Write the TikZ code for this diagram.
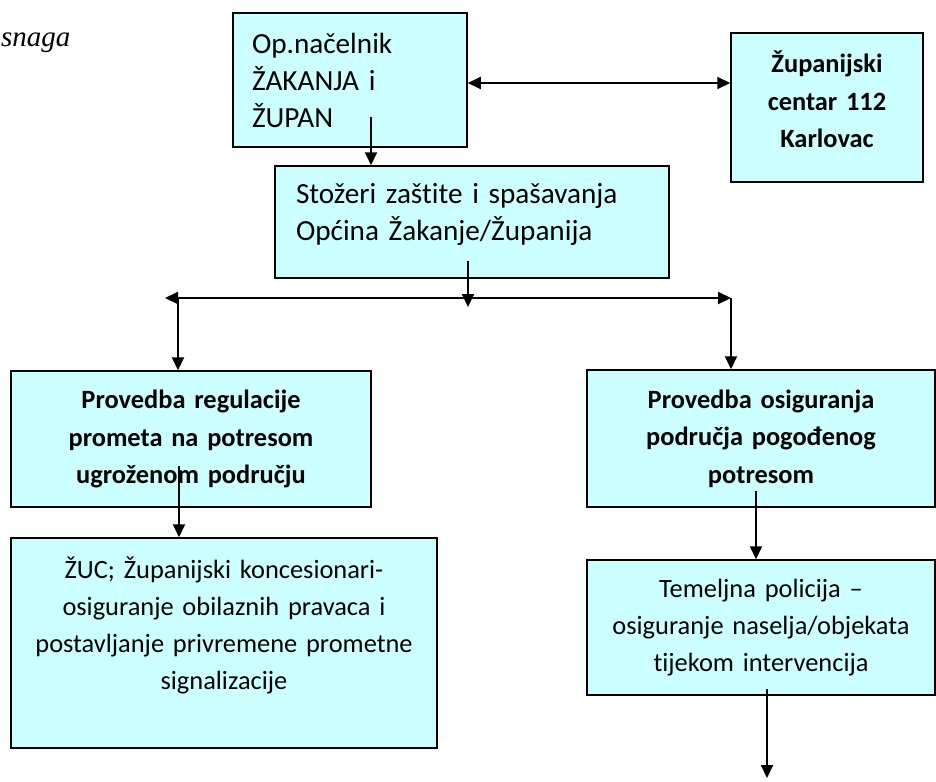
\documentclass[tikz,border=0pt]{standalone}
\usepackage{fontspec}
\setmainfont{Carlito}[Ligatures=NoCommon]
\newfontfamily\timesfont{Liberation Serif}
\usetikzlibrary{arrows.meta,positioning}
\definecolor{boxcyan}{RGB}{204,255,255}
\begin{document}
\begin{tikzpicture}[x=1pt,y=-1pt,
	box/.style={draw=black,line width=1.5pt,fill=boxcyan,inner sep=0pt,align=center,
		font=\fontsize{26.4}{37}\selectfont},
	boldbox/.style={box,font=\fontsize{26.4}{37.5}\selectfont\bfseries},
	leftbox/.style={box,align=left,font=\fontsize{29.2}{37}\selectfont},
	arr/.style={line width=2pt,-{Triangle[length=13pt,width=12pt]}},
	dblarr/.style={line width=2pt,{Triangle[length=13pt,width=12pt]}-{Triangle[length=13pt,width=12pt]}}]
\useasboundingbox (0,0) rectangle (936,781);

\node[anchor=base west,inner sep=0pt,font=\fontsize{29}{30}\selectfont\timesfont\itshape] (snaga) at (1,47) {snaga};

% top row
\node[leftbox,minimum width=234pt,minimum height=134pt,inner xsep=19pt,text width=196pt] (nacelnik) at (350,80)
	{Op.načelnik\\ŽAKANJA i\\ŽUPAN};
\node[boldbox,minimum width=192pt,minimum height=149pt,text width=170pt] (centar) at (827,107.5)
	{Županijski\\centar 112\\Karlovac\\[-21.5pt]\mbox{}};
\node[leftbox,minimum width=394pt,minimum height=112pt,inner xsep=21pt,text width=352pt] (stozeri) at (472,222)
	{Stožeri zaštite i spašavanja\\Općina Žakanje/Županija\\[-17pt]\mbox{}};

% second row
\node[boldbox,minimum width=360pt,minimum height=136pt,text width=330pt] (regulacija) at (191,439)
	{Provedba regulacije\\prometa na potresom\\ugroženom području};
\node[boldbox,minimum width=348pt,minimum height=137pt,text width=320pt] (osiguranje) at (761,438.5)
	{Provedba osiguranja\\područja pogođenog\\potresom};

% bottom row
\node[box,minimum width=426pt,minimum height=210pt,text width=400pt] (zuc) at (224,643)
	{ŽUC; Županijski koncesionari-\\osiguranje obilaznih pravaca i\\postavljanje privremene prometne\\signalizacije\\[2pt]\mbox{}};
\node[box,minimum width=348pt,minimum height=135pt,text width=320pt] (policija) at (761,627.5)
	{Temeljna policija –\\osiguranje naselja/objekata\\tijekom intervencija};

% branch line
\coordinate (granaL) at (165,298);
\coordinate (granaR) at (731,298);
\coordinate (odvojL) at (178,298);
\coordinate (kraj) at (767,778);

\draw[dblarr] ([yshift=-3pt]nacelnik.east) -- ([yshift=-3pt]nacelnik.east -| centar.west);
\draw[arr] ([xshift=21pt,yshift=31pt]nacelnik.south) -- ([xshift=21pt]nacelnik.south |- stozeri.north);
\draw[dblarr] (granaL) -- (granaR);
\draw[arr] ([xshift=-4pt,yshift=18pt]stozeri.south) -- ([xshift=-4pt]stozeri.south |- 0,307);
\draw[arr] (odvojL) -- (odvojL |- regulacija.north);
\draw[arr] (granaR) -- (granaR |- osiguranje.north);
\draw[arr] ([xshift=-12pt,yshift=42pt]regulacija.south) -- ([xshift=-12pt]regulacija.south |- zuc.north);
\draw[arr] ([xshift=-5pt,yshift=17pt]osiguranje.south) -- ([xshift=-5pt]osiguranje.south |- policija.north);
\draw[arr] ([xshift=6pt,yshift=7pt]policija.south) -- (kraj);
\end{tikzpicture}
\end{document}
